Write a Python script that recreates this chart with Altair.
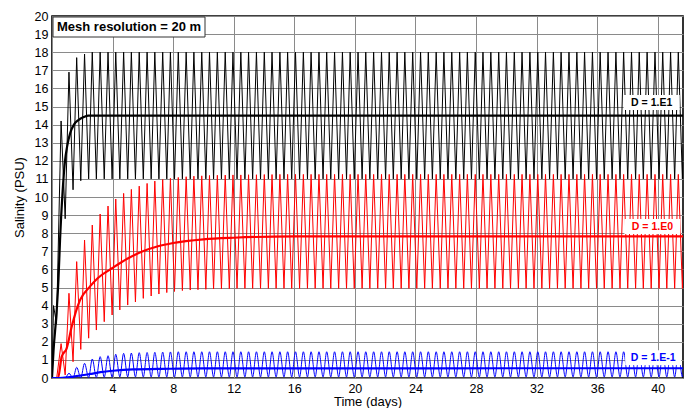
import altair as alt
import pandas as pd

# ---------------- data ----------------
x_max = 41.67

# days of each tidal high (peak) and the following low (trough)
peak_days = [0.60, 1.12, 1.63, 2.15, 2.66, 3.18, 3.70, 4.21, 4.73, 5.24,
             5.76, 6.28, 6.79, 7.31, 7.82, 8.34, 8.86, 9.37, 9.89, 10.40,
             10.92, 11.44, 11.95, 12.47, 12.98, 13.50, 14.02, 14.53, 15.05, 15.56,
             16.08, 16.60, 17.11, 17.63, 18.14, 18.66, 19.18, 19.69, 20.21, 20.72,
             21.24, 21.76, 22.27, 22.79, 23.30, 23.82, 24.34, 24.85, 25.37, 25.88,
             26.40, 26.92, 27.43, 27.95, 28.46, 28.98, 29.50, 30.01, 30.53, 31.04,
             31.56, 32.08, 32.59, 33.11, 33.62, 34.14, 34.66, 35.17, 35.69, 36.20,
             36.72, 37.24, 37.75, 38.27, 38.78, 39.30, 39.82, 40.33, 40.85, 41.36,
             41.88]
trough_days = [0.87, 1.39, 1.90, 2.42, 2.93, 3.45, 3.97, 4.48, 5.00, 5.51,
               6.03, 6.55, 7.06, 7.58, 8.09, 8.61, 9.13, 9.64, 10.16, 10.67,
               11.19, 11.71, 12.22, 12.74, 13.25, 13.77, 14.29, 14.80, 15.32, 15.83,
               16.35, 16.87, 17.38, 17.90, 18.41, 18.93, 19.45, 19.96, 20.48, 20.99,
               21.51, 22.03, 22.54, 23.06, 23.57, 24.09, 24.61, 25.12, 25.64, 26.15,
               26.67, 27.19, 27.70, 28.22, 28.73, 29.25, 29.77, 30.28, 30.80, 31.31,
               31.83, 32.35, 32.86, 33.38, 33.89, 34.41, 34.93, 35.44, 35.96, 36.47,
               36.99, 37.51, 38.02, 38.54, 39.05, 39.57, 40.09, 40.60, 41.12, 41.63,
               42.15]

# D = 1.E1 (black)
black_pre_days = [0.0, 0.1, 0.3]
black_pre_vals = [0.0, 4.0, 3.0]
black_peaks = [14.2, 16.9, 17.7, 17.9, 18.0, 18.0, 18.0, 18.0, 18.0, 18.0,
               18.0, 18.0, 18.0, 18.0, 18.0, 18.0, 18.0, 18.0, 18.0, 18.0,
               18.0, 18.0, 18.0, 18.0, 18.0, 18.0, 18.0, 18.0, 18.0, 18.0,
               18.0, 18.0, 18.0, 18.0, 18.0, 18.0, 18.0, 18.0, 18.0, 18.0,
               18.0, 18.0, 18.0, 18.0, 18.0, 18.0, 18.0, 18.0, 18.0, 18.0,
               18.0, 18.0, 18.0, 18.0, 18.0, 18.0, 18.0, 18.0, 18.0, 18.0,
               18.0, 18.0, 18.0, 18.0, 18.0, 18.0, 18.0, 18.0, 18.0, 18.0,
               18.0, 18.0, 18.0, 18.0, 18.0, 18.0, 18.0, 18.0, 18.0, 18.0,
               18.0]
black_troughs = [8.8, 10.4, 10.9, 11.0, 11.0, 11.0, 11.0, 11.0, 11.0, 11.0,
                 11.0, 11.0, 11.0, 11.0, 11.0, 11.0, 11.0, 11.0, 11.0, 11.0,
                 11.0, 11.0, 11.0, 11.0, 11.0, 11.0, 11.0, 11.0, 11.0, 11.0,
                 11.0, 11.0, 11.0, 11.0, 11.0, 11.0, 11.0, 11.0, 11.0, 11.0,
                 11.0, 11.0, 11.0, 11.0, 11.0, 11.0, 11.0, 11.0, 11.0, 11.0,
                 11.0, 11.0, 11.0, 11.0, 11.0, 11.0, 11.0, 11.0, 11.0, 11.0,
                 11.0, 11.0, 11.0, 11.0, 11.0, 11.0, 11.0, 11.0, 11.0, 11.0,
                 11.0, 11.0, 11.0, 11.0, 11.0, 11.0, 11.0, 11.0, 11.0, 11.0,
                 11.0]
black_mean_days = [0.0, 0.1, 0.3, 0.43, 0.53, 0.7, 0.86, 1.0, 1.19, 1.45, 1.74, 2.1, 2.4, 41.67]
black_mean_vals = [0.0, 1.5, 3.6, 5.5, 7.6, 10.3, 12.0, 12.8, 13.5, 14.0, 14.25, 14.42, 14.5, 14.5]

# D = 1.E0 (red)
red_pre_days = [0.0, 0.31]
red_pre_vals = [0.0, 0.0]
red_peaks = [1.9, 4.68, 6.43, 7.62, 8.45, 9.06, 9.5, 9.89, 10.2, 10.42,
             10.6, 10.75, 10.88, 10.97, 11.03, 11.08, 11.12, 11.15, 11.17, 11.19,
             11.2, 11.21, 11.22, 11.22, 11.23, 11.23, 11.24, 11.24, 11.25, 11.25,
             11.25, 11.25, 11.25, 11.25, 11.25, 11.25, 11.25, 11.25, 11.25, 11.25,
             11.25, 11.25, 11.25, 11.25, 11.25, 11.25, 11.25, 11.25, 11.25, 11.25,
             11.25, 11.25, 11.25, 11.25, 11.25, 11.25, 11.25, 11.25, 11.25, 11.25,
             11.25, 11.25, 11.25, 11.25, 11.25, 11.25, 11.25, 11.25, 11.25, 11.25,
             11.25, 11.25, 11.25, 11.25, 11.25, 11.25, 11.25, 11.25, 11.25, 11.25,
             11.25]
red_troughs = [0.17, 0.9, 1.58, 2.2, 2.65, 3.11, 3.48, 3.76, 4.03, 4.2,
               4.4, 4.53, 4.64, 4.72, 4.78, 4.83, 4.86, 4.88, 4.9, 4.92,
               4.93, 4.94, 4.95, 4.95, 4.95, 4.95, 4.95, 4.95, 4.95, 4.95,
               4.95, 4.95, 4.95, 4.95, 4.95, 4.95, 4.95, 4.95, 4.95, 4.95,
               4.95, 4.95, 4.95, 4.95, 4.95, 4.95, 4.95, 4.95, 4.95, 4.95,
               4.95, 4.95, 4.95, 4.95, 4.95, 4.95, 4.95, 4.95, 4.95, 4.95,
               4.95, 4.95, 4.95, 4.95, 4.95, 4.95, 4.95, 4.95, 4.95, 4.95,
               4.95, 4.95, 4.95, 4.95, 4.95, 4.95, 4.95, 4.95, 4.95, 4.95,
               4.95]
red_mean_days = [0.0, 0.4, 0.64, 0.97, 1.3, 1.85, 2.5, 3.0, 4.0, 5.0, 6.0, 7.0, 8.0, 10.0, 12.0, 16.0, 41.67]
red_mean_vals = [0.0, 0.0, 1.18, 1.64, 2.83, 4.3, 5.05, 5.5, 6.08, 6.6, 7.0, 7.28, 7.46, 7.66, 7.75, 7.82, 7.83]

# D = 1.E-1 (blue)
blue_pre_days = [0.0, 0.45]
blue_pre_vals = [0.0, 0.0]
blue_peaks = [0.03, 0.26, 0.59, 0.81, 1.05, 1.18, 1.23, 1.31, 1.36, 1.38,
              1.4, 1.41, 1.42, 1.43, 1.44, 1.45, 1.45, 1.45, 1.45, 1.45,
              1.45, 1.45, 1.45, 1.45, 1.45, 1.45, 1.45, 1.45, 1.45, 1.45,
              1.45, 1.45, 1.45, 1.45, 1.45, 1.45, 1.45, 1.45, 1.45, 1.45,
              1.45, 1.45, 1.45, 1.45, 1.45, 1.45, 1.45, 1.45, 1.45, 1.45,
              1.45, 1.45, 1.45, 1.45, 1.45, 1.45, 1.45, 1.45, 1.45, 1.45,
              1.45, 1.45, 1.45, 1.45, 1.45, 1.45, 1.45, 1.45, 1.45, 1.45,
              1.45, 1.45, 1.45, 1.45, 1.45, 1.45, 1.45, 1.45, 1.45, 1.45,
              1.45]
blue_troughs = [0.0, 0.0, 0.01, 0.02, 0.03, 0.04, 0.05, 0.06, 0.06, 0.06,
                0.06, 0.06, 0.06, 0.06, 0.06, 0.06, 0.06, 0.06, 0.06, 0.06,
                0.06, 0.06, 0.06, 0.06, 0.06, 0.06, 0.06, 0.06, 0.06, 0.06,
                0.06, 0.06, 0.06, 0.06, 0.06, 0.06, 0.06, 0.06, 0.06, 0.06,
                0.06, 0.06, 0.06, 0.06, 0.06, 0.06, 0.06, 0.06, 0.06, 0.06,
                0.06, 0.06, 0.06, 0.06, 0.06, 0.06, 0.06, 0.06, 0.06, 0.06,
                0.06, 0.06, 0.06, 0.06, 0.06, 0.06, 0.06, 0.06, 0.06, 0.06,
                0.06, 0.06, 0.06, 0.06, 0.06, 0.06, 0.06, 0.06, 0.06, 0.06,
                0.06]
blue_mean_days = [0.0, 0.45, 1.0, 1.6, 2.5, 3.2, 4.0, 5.35, 7.0, 10.0, 41.67]
blue_mean_vals = [0.0, 0.0, 0.03, 0.1, 0.22, 0.32, 0.4, 0.48, 0.5, 0.53, 0.54]

series_names = ["D = 1.E1", "D = 1.E0", "D = 1.E-1"]
series_colors = ["#000000", "#ff0000", "#0000ff"]
label_days = [39.6, 39.65, 39.7]
label_vals = [15.22, 8.37, 1.12]
x_tick_values = [0, 4, 8, 12, 16, 20, 24, 28, 32, 36, 40]
y_tick_values = [0, 1, 2, 3, 4, 5, 6, 7, 8, 9, 10, 11, 12, 13, 14, 15, 16, 17, 18, 19, 20]
title_text = "Mesh resolution = 20 m"

FONT = "Liberation Sans"


def oscillation(pre_d, pre_v, peaks, troughs):
    days = list(pre_d)
    vals = list(pre_v)
    for pd_, pv, td, tv in zip(peak_days, peaks, trough_days, troughs):
        days += [pd_, td]
        vals += [pv, tv]
    return pd.DataFrame({"day": days, "sal": vals, "idx": list(range(len(days)))})


def mean_df(days, vals):
    return pd.DataFrame({"day": days, "sal": vals, "idx": list(range(len(days)))})


x_scale = alt.Scale(domain=[0, x_max], nice=False, zero=False)
y_scale = alt.Scale(domain=[0, 20], nice=False)
x_axis = alt.Axis(values=x_tick_values, title="Time (days)",
                  labelExpr="datum.value == 0 ? '' : datum.label",
                  grid=True, ticks=False, domain=False, labelPadding=4,
                  titlePadding=1)
y_axis = alt.Axis(values=y_tick_values, title="Salinity (PSU)", grid=True,
                  ticks=False, domain=False, labelPadding=4, titlePadding=8)


def X():
    return alt.X("day:Q", scale=x_scale, axis=x_axis)


def Y():
    return alt.Y("sal:Q", scale=y_scale, axis=y_axis)


def line_layer(df, color, width, interp):
    return alt.Chart(df).mark_line(color=color, strokeWidth=width, clip=True,
                                   interpolate=interp).encode(
        x=X(), y=Y(), order="idx:Q")


layers = [
    line_layer(oscillation(black_pre_days, black_pre_vals, black_peaks, black_troughs), series_colors[0], 1.0, "linear"),
    line_layer(oscillation(red_pre_days, red_pre_vals, red_peaks, red_troughs), series_colors[1], 1.0, "linear"),
    line_layer(oscillation(blue_pre_days, blue_pre_vals, blue_peaks, blue_troughs), series_colors[2], 1.0, "monotone"),
    line_layer(mean_df(black_mean_days, black_mean_vals), series_colors[0], 2.2, "monotone"),
    line_layer(mean_df(red_mean_days, red_mean_vals), series_colors[1], 2.2, "monotone"),
    line_layer(mean_df(blue_mean_days, blue_mean_vals), series_colors[2], 2.2, "monotone"),
]

labels_df = pd.DataFrame({"day": label_days, "sal": label_vals,
                          "text": series_names, "color": series_colors})

label_box = alt.Chart(labels_df).mark_rect(color="white", width=56, height=15).encode(
    x=X(), y=Y())
label_text = alt.Chart(labels_df).mark_text(font=FONT, fontSize=10.5, fontWeight="bold").encode(
    x=X(), y=Y(), text="text:N",
    color=alt.Color("color:N", scale=None, legend=None))

title_box = alt.Chart(pd.DataFrame({"t": [title_text]})).mark_rect(
    fill="white", stroke="#333333", strokeWidth=1).encode(
    x=alt.value(1), x2=alt.value(153), y=alt.value(1), y2=alt.value(21))
title_mark = alt.Chart(pd.DataFrame({"t": [title_text]})).mark_text(
    font=FONT, fontSize=13, fontWeight="bold", align="left", baseline="middle").encode(
    x=alt.value(5), y=alt.value(11), text="t:N")

chart = alt.layer(*layers, label_box, label_text, title_box, title_mark).properties(
    width=631, height=362,
    autosize=alt.AutoSizeParams(type="none"),
    padding={"left": 52, "top": 16, "right": 8, "bottom": 30},
).configure_view(stroke="#000000", strokeWidth=1.6).configure_axis(
    gridColor="#8a8a8a", gridWidth=1, gridOpacity=1,
    labelFont=FONT, labelFontSize=12.5, labelColor="#000000",
    titleFont=FONT, titleFontSize=13, titleFontWeight="normal", titleColor="#000000")

chart.save("out.html", embed_options={"renderer": "svg", "actions": False})
